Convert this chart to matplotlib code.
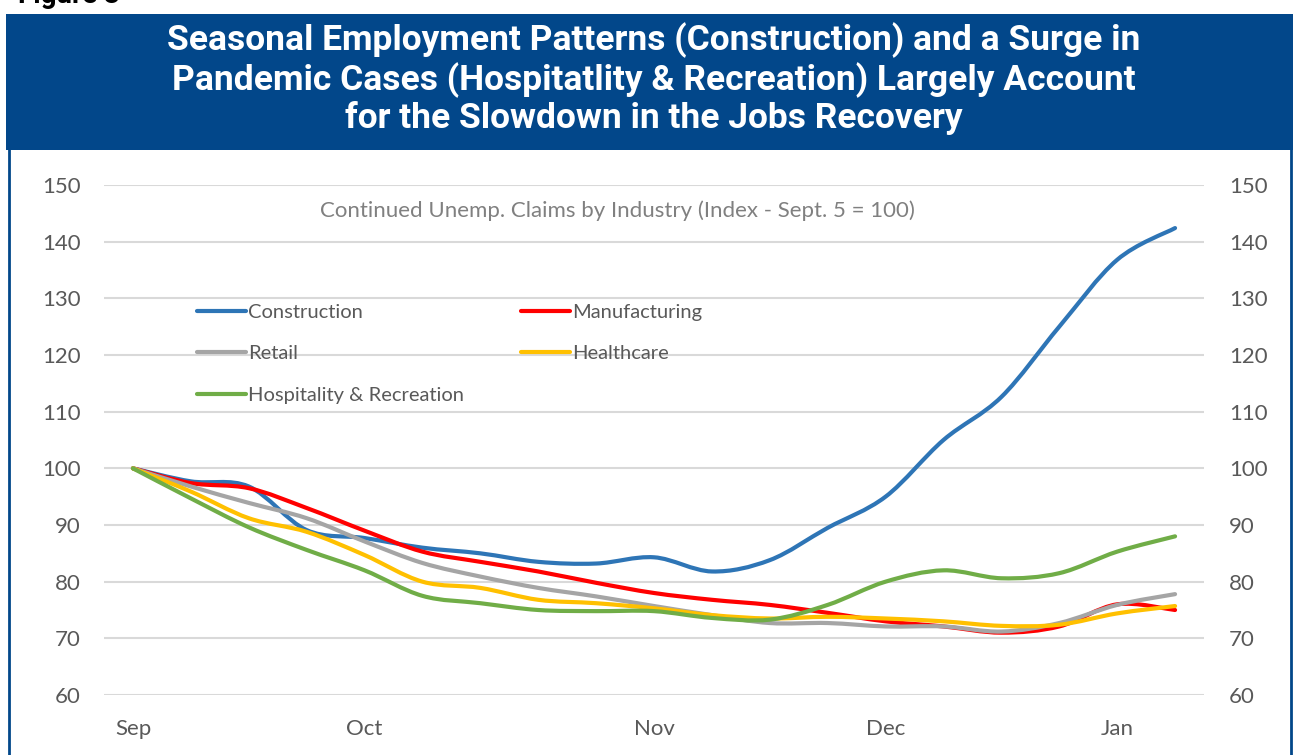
import matplotlib
matplotlib.use("Agg")
import matplotlib.pyplot as plt
from matplotlib.path import Path
from matplotlib.patches import PathPatch, Rectangle
from matplotlib.lines import Line2D
import numpy as np

# ---- data (weekly, Sept. 5 = 100) ----
weeks = list(range(19))
month_ticks = [0, 4, 9, 13, 17]
month_labels = ["Sep", "Oct", "Nov", "Dec", "Jan"]

construction = [100, 97.7, 96.8, 89.1, 87.7, 86.0, 85.0, 83.5, 83.2, 84.3, 81.8, 83.8, 89.5, 95.0, 105.0, 112.6, 125.0, 136.8, 142.4]
manufacturing = [100, 97.4, 96.5, 93.0, 89.0, 85.3, 83.5, 81.8, 79.8, 78.0, 76.8, 75.9, 74.5, 73.0, 72.1, 71.0, 72.1, 76.0, 75.0]
retail = [100, 96.8, 93.9, 91.2, 87.1, 83.3, 80.9, 78.9, 77.4, 75.7, 74.1, 72.7, 72.7, 72.1, 72.1, 71.2, 72.7, 75.9, 77.8]
healthcare = [100, 95.9, 91.2, 88.8, 84.7, 80.0, 78.9, 76.8, 76.2, 75.3, 74.1, 73.5, 73.8, 73.5, 73.0, 72.2, 72.4, 74.4, 75.7]
hospitality = [100, 94.7, 89.6, 85.6, 82.0, 77.5, 76.2, 75.0, 74.8, 74.8, 73.6, 73.3, 75.9, 80.0, 82.0, 80.6, 81.5, 85.3, 88.0]

series = [
    ("Construction", construction, "#2E75B6"),
    ("Manufacturing", manufacturing, "#FF0000"),
    ("Retail", retail, "#A5A5A5"),
    ("Healthcare", healthcare, "#FFC000"),
    ("Hospitality & Recreation", hospitality, "#70AD47"),
]

title = ("Seasonal Employment Patterns (Construction) and a Surge in\n"
         "Pandemic Cases (Hospitatlity & Recreation) Largely Account\n"
         "for the Slowdown in the Jobs Recovery")
subtitle = "Continued Unemp. Claims by Industry (Index - Sept. 5 = 100)"

FONT = "Lato"
W, H = 1299, 755
fig = plt.figure(figsize=(W / 100, H / 100), dpi=100)
fig.patch.set_facecolor("white")

navy = "#02478A"
# banner
fig.patches.append(Rectangle((6 / W, 1 - 150 / H), (1293 - 6) / W, (150 - 14) / H,
                             transform=fig.transFigure, facecolor=navy, edgecolor="none", zorder=0))
# frame sides below banner
fig.add_artist(Line2D([9 / W, 9 / W], [0, 1 - 150 / H], transform=fig.transFigure, color=navy, lw=2))
fig.add_artist(Line2D([1291 / W, 1291 / W], [0, 1 - 150 / H], transform=fig.transFigure, color=navy, lw=2))

fig.text(654 / W, 1 - 79 / H, title, ha="center", va="center", color="white",
         fontsize=25.5, fontweight="bold", family="Roboto", linespacing=1.13)
fig.text(18 / W, 1 - 3 / H, "Figure 3", ha="left", va="baseline", color="black",
         fontsize=20, fontweight="bold", family="Roboto")

ax = fig.add_axes([104 / W, 1 - 695 / H, (1204 - 104) / W, (695 - 185) / H])
ax.set_xlim(-0.5, 18.5)
ax.set_ylim(60, 150)
ax.set_yticks(range(60, 151, 10))
ax.set_xticks(month_ticks)
ax.set_xticklabels(month_labels)
for s in ax.spines.values():
    s.set_visible(False)
ax.grid(axis="y", color="#D9D9D9", lw=1.5)
ax.set_axisbelow(True)
ax.tick_params(axis="both", length=0, labelsize=16, labelcolor="#595959")
ax.tick_params(axis="x", pad=17)
ax.tick_params(axis="y", pad=17)
for lab in ax.get_xticklabels() + ax.get_yticklabels():
    lab.set_family(FONT)

ax2 = ax.twinx()
ax2.set_ylim(60, 150)
ax2.set_yticks(range(60, 151, 10))
for s in ax2.spines.values():
    s.set_visible(False)
ax2.tick_params(axis="y", length=0, labelsize=16, labelcolor="#595959", pad=18)
for lab in ax2.get_yticklabels():
    lab.set_family(FONT)


def smooth_path(xs, ys):
    x = np.asarray(xs, float)
    y = np.asarray(ys, float)
    n = len(x)
    verts = [(x[0], y[0])]
    codes = [Path.MOVETO]
    for i in range(n - 1):
        x0, y0 = (x[i - 1], y[i - 1]) if i > 0 else (x[i], y[i])
        x3, y3 = (x[i + 2], y[i + 2]) if i + 2 < n else (x[i + 1], y[i + 1])
        c1 = (x[i] + (x[i + 1] - x0) / 6, y[i] + (y[i + 1] - y0) / 6)
        c2 = (x[i + 1] - (x3 - x[i]) / 6, y[i + 1] - (y3 - y[i]) / 6)
        verts += [c1, c2, (x[i + 1], y[i + 1])]
        codes += [Path.CURVE4] * 3
    return Path(verts, codes)


handles = {}
for name, vals, col in series:
    p = PathPatch(smooth_path(weeks, vals), facecolor="none", edgecolor=col, lw=3,
                  capstyle="round", joinstyle="round", transform=ax.transData, zorder=3)
    ax.add_patch(p)
    handles[name] = Line2D([], [], color=col, lw=3, solid_capstyle="round")

ax.text(0.467, 0.950, subtitle, transform=ax.transAxes, ha="center", va="center",
        fontsize=16, color="#808080", family=FONT)

order = ["Construction", "Retail", "Hospitality & Recreation", "Manufacturing", "Healthcare"]
leg = ax.legend([handles[k] for k in order], order, ncol=2, frameon=False,
                loc="upper left", bbox_to_anchor=(75 / 1100, 1 - 101 / 510),
                handlelength=2.45, handletextpad=0.1, columnspacing=2.8,
                labelspacing=1.2, prop={"family": FONT, "size": 14.5})
for t in leg.get_texts():
    t.set_color("#595959")

fig.savefig("out.png", dpi=100)
